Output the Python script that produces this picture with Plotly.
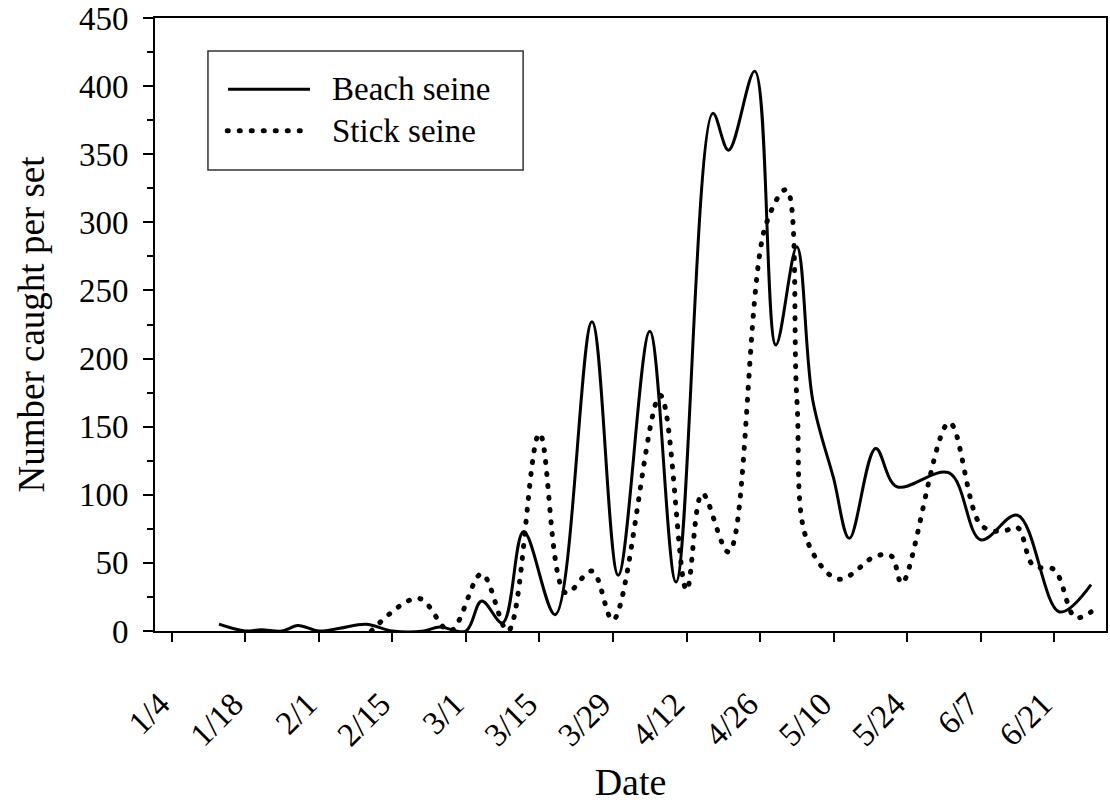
import plotly.graph_objects as go

# ---- data ----
beach_dates = ["2001-01-13", "2001-01-18", "2001-01-21", "2001-01-25", "2001-01-28",
               "2001-02-01", "2001-02-05", "2001-02-10", "2001-02-15", "2001-02-21",
               "2001-02-24", "2001-03-01", "2001-03-04", "2001-03-08", "2001-03-12",
               "2001-03-18", "2001-03-25", "2001-03-30", "2001-04-05", "2001-04-10",
               "2001-04-17", "2001-04-20", "2001-04-25", "2001-04-29", "2001-05-03",
               "2001-05-06", "2001-05-10", "2001-05-13", "2001-05-18", "2001-05-22",
               "2001-06-01", "2001-06-07", "2001-06-14", "2001-06-22", "2001-06-28"]
beach_vals = [5, 0, 1, 0, 4,
              0, 2, 5, 0, 0,
              3, 0, 22, 6, 73,
              12, 227, 41, 220, 36,
              380, 353, 411, 210, 282,
              170, 112, 68, 134, 106,
              116, 67, 85, 14, 34]

stick_dates = ["2001-02-11", "2001-02-20", "2001-02-26", "2001-03-04", "2001-03-09",
               "2001-03-15", "2001-03-20", "2001-03-25", "2001-03-29", "2001-04-07",
               "2001-04-12", "2001-04-15", "2001-04-20", "2001-04-27", "2001-05-01",
               "2001-05-03", "2001-05-05", "2001-05-11", "2001-05-18", "2001-05-21",
               "2001-05-23", "2001-06-01", "2001-06-07", "2001-06-11", "2001-06-14",
               "2001-06-17", "2001-06-21", "2001-06-25", "2001-06-28"]
stick_vals = [0, 24, 0, 42, 0,
              145, 28, 44, 8, 173,
              30, 101, 58, 297, 324,
              170, 66, 38, 55, 55,
              35, 153, 78, 73, 76,
              48, 45, 10, 14]

tick_dates = ["2001-01-04", "2001-01-18", "2001-02-01", "2001-02-15", "2001-03-01",
              "2001-03-15", "2001-03-29", "2001-04-12", "2001-04-26", "2001-05-10",
              "2001-05-24", "2001-06-07", "2001-06-21"]
tick_labels = ["1/4", "1/18", "2/1", "2/15", "3/1", "3/15", "3/29", "4/12",
               "4/26", "5/10", "5/24", "6/7", "6/21"]

series_names = ["Beach seine", "Stick seine"]

FONT = "Liberation Serif, Times New Roman, serif"
PAD = "\u00a0\u00a0"  # trailing space so rotated labels sit left of their tick

fig = go.Figure()
fig.add_trace(go.Scatter(x=beach_dates, y=beach_vals, mode="lines", name=series_names[0],
                         line=dict(color="black", width=3, shape="spline", smoothing=1.0),
                         showlegend=False))
fig.add_trace(go.Scatter(x=stick_dates, y=stick_vals, mode="lines", name=series_names[1],
                         line=dict(color="black", width=5, shape="spline", smoothing=1.0,
                                   dash="1px,11px"),
                         showlegend=False))

# manual legend (box, sample lines, labels)
fig.add_shape(type="rect", xref="paper", yref="paper", x0=0.0557, x1=0.3871, y0=0.752, y1=0.946,
              line=dict(color="#333", width=1.5), fillcolor="white", layer="above")
fig.add_shape(type="line", xref="paper", yref="paper", x0=0.0768, x1=0.163, y0=0.8837, y1=0.8837,
              line=dict(color="black", width=3), layer="above")
fig.add_shape(type="line", xref="paper", yref="paper", x0=0.0760, x1=0.160, y0=0.8162, y1=0.8162,
              line=dict(color="black", width=5, dash="1px,11px"), layer="above")
fig.add_annotation(xref="paper", yref="paper", x=0.184, y=0.8837, text=series_names[0],
                   showarrow=False, xanchor="left", yanchor="middle",
                   font=dict(family=FONT, size=33, color="black"))
fig.add_annotation(xref="paper", yref="paper", x=0.184, y=0.8162, text=series_names[1],
                   showarrow=False, xanchor="left", yanchor="middle",
                   font=dict(family=FONT, size=33, color="black"))

fig.update_layout(
    width=1110, height=803,
    margin=dict(l=155, r=4, t=18, b=172, autoexpand=False),
    paper_bgcolor="white", plot_bgcolor="white",
    font=dict(family=FONT, color="black"),
    xaxis=dict(
        type="date",
        range=["2000-12-31 19:40", "2001-06-30 20:24"],
        tickvals=tick_dates, ticktext=[t + PAD for t in tick_labels], tickangle=-45,
        ticks="outside", ticklen=9, tickwidth=2, tickcolor="black",
        ticklabelstandoff=18, automargin=False,
        showline=True, linewidth=2, linecolor="black", mirror=True,
        showgrid=False, zeroline=False,
        tickfont=dict(family=FONT, size=33, color="black"),
        title=dict(text="Date", font=dict(family=FONT, size=38, color="black"), standoff=24),
    ),
    yaxis=dict(
        range=[0, 450],
        tickvals=[0, 50, 100, 150, 200, 250, 300, 350, 400, 450],
        ticks="outside", ticklen=10, tickwidth=2, tickcolor="black",
        ticklabelstandoff=8, automargin=False,
        minor=dict(ticks="outside", ticklen=6, tickwidth=1.5, tickcolor="black", dtick=25, tick0=0),
        showline=True, linewidth=2, linecolor="black", mirror=True,
        showgrid=False, zeroline=False,
        tickfont=dict(family=FONT, size=33, color="black"),
        title=dict(text="Number caught per set", font=dict(family=FONT, size=37, color="black"),
                   standoff=23),
    ),
)

post = """
var gd = document.getElementById('{plot_id}');
function fixCaps(){
  var ps = gd.querySelectorAll('path');
  ps.forEach(function(p){
    var d = p.style.strokeDasharray;
    if(d && d !== 'none' && d !== ''){ p.style.strokeLinecap = 'round'; }
  });
}
setTimeout(fixCaps, 0);
setTimeout(fixCaps, 300);
if(gd.on){ gd.on('plotly_afterplot', fixCaps); }
"""

fig.write_html("out.html", post_script=post)
